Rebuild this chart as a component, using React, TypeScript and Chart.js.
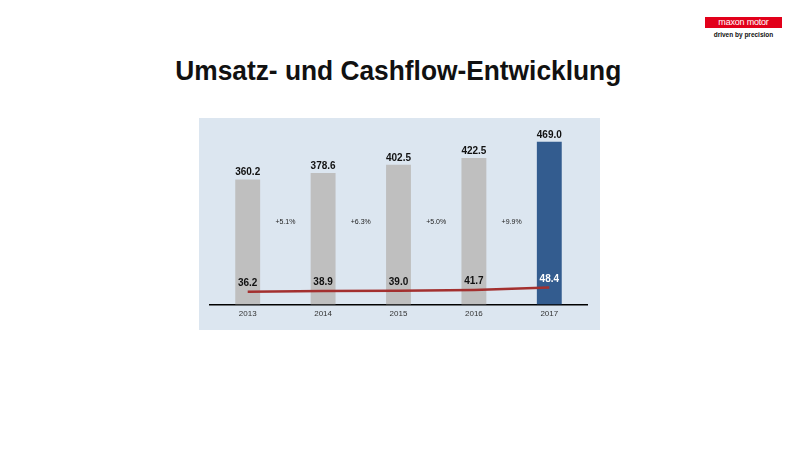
import React, { useEffect, useRef } from "react";
import { Chart, registerables } from "chart.js";

Chart.register(...registerables);

const years = ["2013", "2014", "2015", "2016", "2017"];
const umsatz = [360.2, 378.6, 402.5, 422.5, 469.0];
const cashflow = [36.2, 38.9, 39.0, 41.7, 48.4];
const growth = ["+5.1%", "+6.3%", "+5.0%", "+9.9%"];
const barColors = ["#bfbfbf", "#bfbfbf", "#bfbfbf", "#bfbfbf", "#335c8f"];
const cashflowLabelColors = ["#111", "#111", "#111", "#111", "#ffffff"];

const FONT = "'Liberation Sans', Arial, sans-serif";

const labelPlugin = {
  id: "labels",
  afterDatasetsDraw(chart: any) {
    const ctx = chart.ctx;
    const barMeta = chart.getDatasetMeta(0);
    const lineMeta = chart.getDatasetMeta(1);
    ctx.save();
    ctx.textAlign = "center";
    ctx.textBaseline = "alphabetic";
    ctx.font = `bold 10px ${FONT}`;
    ctx.fillStyle = "#111";
    barMeta.data.forEach((el: any, i: number) => {
      ctx.fillText(umsatz[i].toFixed(1), el.x, el.y - 4);
    });
    lineMeta.data.forEach((el: any, i: number) => {
      ctx.fillStyle = cashflowLabelColors[i];
      ctx.fillText(cashflow[i].toFixed(1), el.x, el.y - 6);
    });
    ctx.font = `7px ${FONT}`;
    ctx.fillStyle = "#222";
    const area = chart.chartArea;
    const gy = area.bottom - (area.bottom - area.top) * 0.48;
    growth.forEach((g, i) => {
      const x = (barMeta.data[i].x + barMeta.data[i + 1].x) / 2;
      ctx.fillText(g, x, gy + 3);
    });
    ctx.restore();
  },
};

export default function App() {
  const ref = useRef<HTMLCanvasElement>(null);
  useEffect(() => {
    if (!ref.current) return;
    const chart = new Chart(ref.current, {
      type: "bar",
      data: {
        labels: years,
        datasets: [
          {
            type: "bar",
            label: "Umsatz",
            data: umsatz,
            backgroundColor: barColors,
            barPercentage: 0.33,
            categoryPercentage: 1,
            order: 1,
          },
          {
            type: "line",
            label: "Cashflow",
            data: cashflow,
            borderColor: "#a3302f",
            borderWidth: 2.5,
            pointRadius: 0,
            tension: 0,
            order: 0,
          } as any,
        ],
      },
      options: {
        animation: false,
        responsive: false,
        maintainAspectRatio: false,
        layout: { padding: { left: 11, right: 13, top: 13, bottom: 6 } },
        plugins: { legend: { display: false }, tooltip: { enabled: false } },
        scales: {
          x: {
            grid: { display: false, drawTicks: false },
            border: { display: true, color: "#000", width: 1.5 },
            ticks: { color: "#333", font: { family: FONT, size: 8 }, padding: 5 },
          },
          y: {
            display: false,
            min: 0,
            max: 500,
          },
        },
      },
      plugins: [labelPlugin],
    });
    return () => chart.destroy();
  }, []);

  return (
    <div style={{ position: "absolute", left: 0, top: 0, width: 800, height: 450, background: "#fff", fontFamily: FONT }}>
      <div style={{ position: "absolute", left: 705, top: 17, width: 77, height: 11, background: "#e2001a", color: "#fff", fontSize: 9, lineHeight: "11px", textAlign: "center", letterSpacing: -0.2 }}>
        maxon motor
      </div>
      <div style={{ position: "absolute", left: 705, top: 29.5, width: 77, fontSize: 6.5, lineHeight: "9px", textAlign: "center", color: "#111", fontWeight: "bold" }}>
        driven by precision
      </div>
      <div style={{ position: "absolute", left: 0, top: 55, width: 796, textAlign: "center", lineHeight: "32px" }}>
        <span style={{ display: "inline-block", fontSize: 28, fontWeight: "bold", color: "#111", transform: "scaleX(0.94)", whiteSpace: "nowrap" }}>
          Umsatz- und Cashflow-Entwicklung
        </span>
      </div>
      <div style={{ position: "absolute", left: 199, top: 118, width: 401, height: 212, background: "#dce6f0" }}>
        <canvas ref={ref} width={401} height={212} style={{ width: 401, height: 212, display: "block" }} />
      </div>
    </div>
  );
}
